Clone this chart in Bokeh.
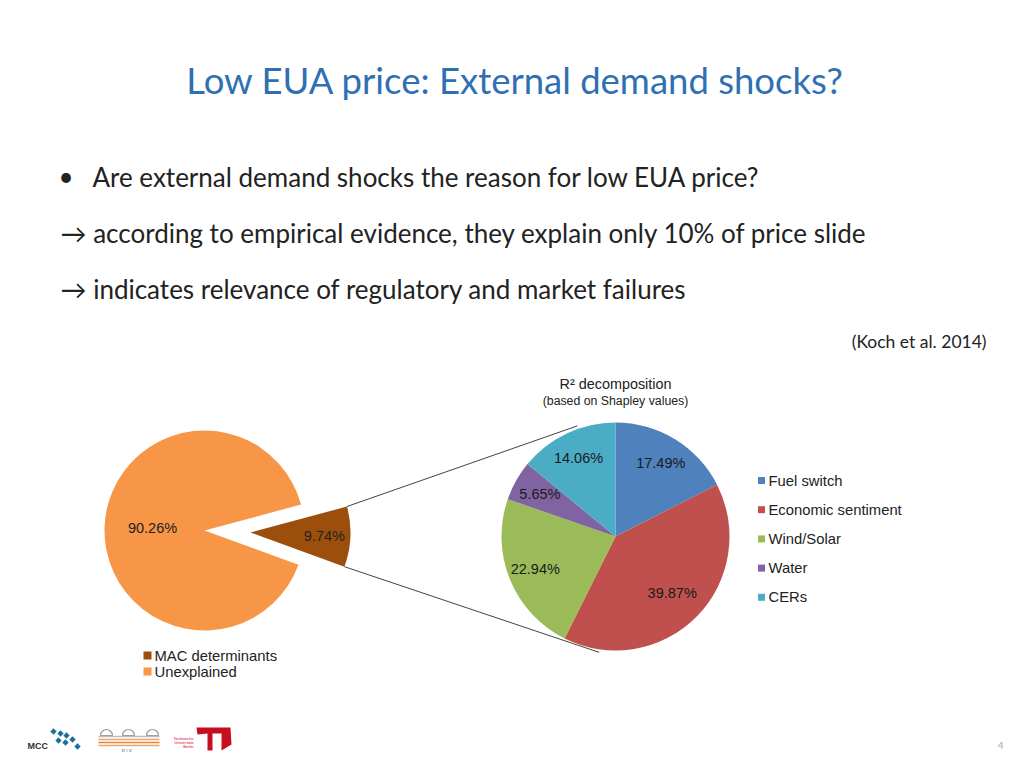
import numpy as np
from bokeh.plotting import figure
from bokeh.models import Range1d
from bokeh.core.properties import value
from bokeh.embed import file_html
from bokeh.resources import INLINE

# ---------------- data ----------------
outer_labels = ["MAC determinants", "Unexplained"]
outer_values = [9.74, 90.26]

inner_labels = ["Fuel switch", "Economic sentiment", "Wind/Solar", "Water", "CERs"]
inner_values = [17.49, 39.87, 22.94, 5.65, 14.06]

title = "Low EUA price: External demand shocks?"
bullet_lines = [
    "Are external demand shocks the reason for low EUA price?",
    "\u2192 according to empirical evidence, they explain only 10% of price slide",
    "\u2192 indicates relevance of regulatory and market failures",
]
source = "(Koch et al. 2014)"
inner_title = "R\u00b2 decomposition"
inner_subtitle = "(based on Shapley values)"

# ---------------- styles ----------------
outer_colors = ["#9C4F0C", "#F79646"]
inner_colors = ["#4F81BD", "#C0504D", "#9BBB59", "#8064A2", "#4BACC6"]
ARIAL = value("Liberation Sans")
CAL = value("Lato")

W, H = 1008, 752
p = figure(width=W, height=H, x_range=Range1d(0, 1008), y_range=Range1d(16, 768),
           output_backend="svg", toolbar_location=None, min_border=0)
p.axis.visible = False
p.grid.visible = False
p.outline_line_color = None
p.background_fill_color = "white"


def Y(sy):
    return 768 - sy


# ---------------- slide texts ----------------
p.text(x=[515], y=[Y(79)], text=[title], text_font=CAL, text_font_size="36.5px",
       text_color="#2F6FB3", text_align="center", text_baseline="middle")
p.text(x=[58], y=[Y(175)], text=["\u2022"], text_font=CAL, text_font_size="26px",
       text_color="#222222", text_align="left", text_baseline="middle")
p.text(x=[92, 60, 60], y=[Y(176), Y(232), Y(288)], text=bullet_lines, text_font=CAL,
       text_font_size="26px", text_color="#222222", text_align="left", text_baseline="middle")
p.text(x=[986], y=[Y(341)], text=[source], text_font=CAL, text_font_size="17.5px",
       text_color="#222222", text_align="right", text_baseline="middle")
p.text(x=[1003], y=[Y(745)], text=["4"], text_font=CAL, text_font_size="10px",
       text_color="#aaaaaa", text_align="right", text_baseline="middle")

# ---------------- outer pie (exploded) ----------------
R1 = 100
cx1, cy1 = 204, Y(530)
vals = np.array(outer_values)
spans = np.deg2rad(vals * 3.6)
brown_start = np.deg2rad(-20.0)
starts = [brown_start, brown_start + spans[0]]
ends = [brown_start + spans[0], brown_start + spans[0] + spans[1]]
mids = [(s + e) / 2 for s, e in zip(starts, ends)]
explode = [46, 0]
xs1 = [cx1 + explode[i] * np.cos(mids[i]) for i in range(2)]
ys1 = [cy1 + explode[i] * np.sin(mids[i]) for i in range(2)]
p.wedge(x=xs1, y=ys1, radius=R1, start_angle=starts, end_angle=ends,
        fill_color=outer_colors, line_color=None)
lab_r = [0.74, 0.52]
p.text(x=[xs1[i] + lab_r[i] * R1 * np.cos(mids[i]) for i in range(2)],
       y=[ys1[i] + lab_r[i] * R1 * np.sin(mids[i]) for i in range(2)],
       text=[f"{v:.2f}%" for v in outer_values], text_font=ARIAL, text_font_size="14.5px",
       text_color="#222222", text_align="center", text_baseline="middle")

# ---------------- inner pie ----------------
R2 = 114
cx2, cy2 = 615, Y(536)
iv = np.array(inner_values)
cum = np.concatenate([[0], np.cumsum(iv)])
i_start = np.deg2rad(90 - cum[1:] * 3.6)
i_end = np.deg2rad(90 - cum[:-1] * 3.6)
i_mid = (i_start + i_end) / 2
i_lab_r = np.full(len(inner_values), 0.76)
i_lab_r[1] = 0.7
p.wedge(x=cx2, y=cy2, radius=R2, start_angle=list(i_start), end_angle=list(i_end),
        fill_color=inner_colors, line_color=None)
p.text(x=list(cx2 + i_lab_r * R2 * np.cos(i_mid)), y=list(cy2 + i_lab_r * R2 * np.sin(i_mid)),
       text=[f"{v:.2f}%" for v in inner_values], text_font=ARIAL, text_font_size="14.5px",
       text_color="#1a1a1a", text_align="center", text_baseline="middle")
p.text(x=[cx2], y=[Y(383)], text=[inner_title], text_font=ARIAL, text_font_size="14.4px",
       text_color="#222222", text_align="center", text_baseline="middle")
p.text(x=[cx2], y=[Y(400)], text=[inner_subtitle], text_font=ARIAL, text_font_size="12.3px",
       text_color="#222222", text_align="center", text_baseline="middle")

# ---------------- connector lines ----------------
top_a, bot_a = ends[0], starts[0]
x0s = [xs1[0] + R1 * np.cos(top_a), xs1[0] + R1 * np.cos(bot_a)]
y0s = [ys1[0] + R1 * np.sin(top_a), ys1[0] + R1 * np.sin(bot_a)]
tang = np.deg2rad([109, 262])
x1s = list(cx2 + 117 * np.cos(tang))
y1s = list(cy2 + 117 * np.sin(tang))
p.segment(x0=x0s, y0=y0s, x1=x1s, y1=y1s, line_color="#444444", line_width=1)

# ---------------- legends ----------------
ly = [Y(480 + i * 29.2) for i in range(len(inner_labels))]
p.rect(x=[761] * len(inner_labels), y=ly, width=7, height=7, fill_color=inner_colors,
       line_color=None)
p.text(x=[768] * len(inner_labels), y=ly, text=inner_labels, text_font=ARIAL,
       text_font_size="14.8px", text_color="#222222", text_align="left", text_baseline="middle")

oy = [Y(655), Y(671)]
p.rect(x=[147, 147], y=oy, width=8, height=8, fill_color=outer_colors, line_color=None)
p.text(x=[154, 154], y=oy, text=outer_labels, text_font=ARIAL, text_font_size="14.8px",
       text_color="#222222", text_align="left", text_baseline="middle")

# ---------------- logos (decorative) ----------------
p.text(x=[27], y=[Y(745)], text=["MCC"], text_font=ARIAL, text_font_size="9px",
       text_font_style="bold", text_color="#333333", text_align="left", text_baseline="middle")
p.rect(x=[53, 60, 66, 58, 65, 72, 77], y=[Y(v) for v in [731, 733, 735, 740, 742, 739, 746]],
       width=4.5, height=4.5, angle=np.pi / 4, fill_color="#1F6F9E", line_color=None)
p.wedge(x=[106, 128, 152], y=[Y(735)] * 3, radius=6, start_angle=0, end_angle=np.pi,
        fill_color=None, line_color="#999999", line_width=1.2)
p.segment(x0=[98] * 4, y0=[Y(v) for v in [736, 739, 742, 745]], x1=[159] * 4,
          y1=[Y(v) for v in [736, 739, 742, 745]], line_color=["#bbbbbb", "#F4A261", "#E9823A", "#F4A261"],
          line_width=1.5)
p.text(x=[128], y=[Y(750)], text=["P  I  K"], text_font=ARIAL, text_font_size="5px",
       text_color="#777777", text_align="center", text_baseline="middle")
p.patch(x=[196, 230, 231, 221, 221, 212, 212, 207, 207, 197],
        y=[Y(v) for v in [727, 727, 744, 750, 733, 733, 750, 750, 733, 734]],
        fill_color="#C50E1F", line_color=None)
p.text(x=[193, 193, 193], y=[Y(738), Y(742), Y(746)], text=["Technische", "Universit\u00e4t", "Berlin"],
       text_font=ARIAL, text_font_size="4px", text_color="#C50E1F", text_align="right",
       text_baseline="middle")

open("out.html", "w").write(file_html(p, INLINE))
